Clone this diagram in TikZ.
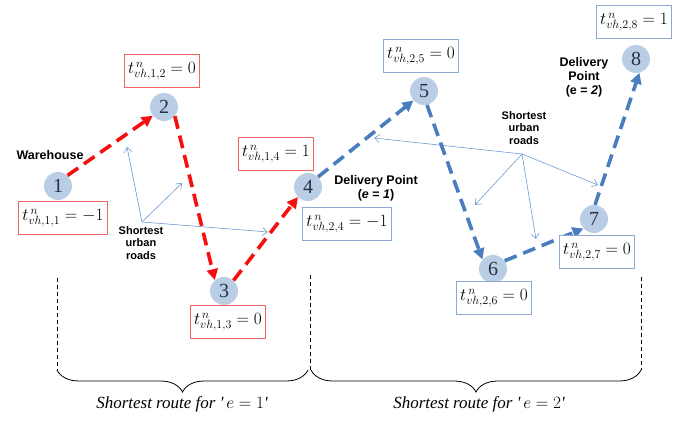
\documentclass[tikz,border=0pt]{standalone}
\usepackage{fontspec}
\setmainfont{Liberation Serif}
\newfontfamily\sansb{Liberation Sans}
\usetikzlibrary{arrows.meta,decorations.pathreplacing}
\definecolor{circfill}{RGB}{185,205,229}
\definecolor{numtext}{RGB}{40,50,70}
\definecolor{routeblue}{RGB}{74,125,190}
\definecolor{thinblue}{RGB}{110,155,210}
\definecolor{routered}{RGB}{245,15,15}
\definecolor{boxred}{RGB}{240,100,100}
\definecolor{boxblue}{RGB}{140,170,210}
\begin{document}
\begin{tikzpicture}[x=1pt,y=-1pt,
  pt/.style={circle, fill=circfill, minimum size=28pt, inner sep=0pt, text=numtext, font=\fontsize{20}{20}\selectfont},
  lblr/.style={draw=boxred, line width=0.8pt, fill=white, inner xsep=4pt, inner ysep=2pt, minimum height=33pt, font=\fontsize{18}{18}\selectfont},
  lblb/.style={draw=boxblue, line width=0.8pt, fill=white, inner xsep=4pt, inner ysep=2pt, minimum height=33pt, font=\fontsize{18}{18}\selectfont},
  redroute/.style={draw=routered, line width=3.6pt, dash pattern=on 13pt off 7pt, -{Triangle[length=11pt,width=11pt]}},
  blueroute/.style={draw=routeblue, line width=3.6pt, dash pattern=on 13pt off 7pt, -{Triangle[length=11pt,width=11pt]}},
  road/.style={draw=thinblue, line width=0.6pt, -{Straight Barb[length=5pt,width=8pt]}},
  roadtxt/.style={font=\sansb\bfseries\fontsize{11}{12.5}\selectfont, align=center},
  bigtxt/.style={font=\sansb\bfseries\fontsize{12.5}{14}\selectfont, align=center},
  sep/.style={draw=black, line width=0.7pt, dash pattern=on 4pt off 3pt},
  brc/.style={draw=black, line width=0.8pt, decorate, decoration={brace, mirror, amplitude=22pt}},
  routetxt/.style={font=\itshape\fontsize{17}{17}\selectfont}
]
\useasboundingbox (0,0) rectangle (699,422);

% nodes
\node[pt] (n1) at (58,186) {1};
\node[pt] (n2) at (164,107) {2};
\node[pt] (n3) at (224,291) {3};
\node[pt] (n4) at (308,187) {4};
\node[pt] (n5) at (424,91) {5};
\node[pt] (n6) at (493,269) {6};
\node[pt] (n7) at (594,219) {7};
\node[pt] (n8) at (636,59) {8};

% thin road arrows
\coordinate (h1) at (142,222);
\coordinate (h1a) at (127,147);
\coordinate (h1b) at (182,183);
\coordinate (h1c) at (268,232);
\draw[road] (h1) -- (h1a);
\draw[road] (h1) -- (h1b);
\draw[road] (h1) -- (h1c);
\coordinate (h2) at (522,154);
\coordinate (h2a) at (374,138);
\coordinate (h2b) at (475,205);
\coordinate (h2c) at (598,185);
\coordinate (h2d) at (536,239);
\draw[road] (h2) -- (h2a);
\draw[road] (h2) -- (h2b);
\draw[road] (h2) -- (h2c);
\draw[road] (h2) -- (h2d);

% routes
\draw[redroute] (n1.48) -- (n2.218);
\draw[redroute] (n2.-40) -- (n3.130);
\draw[redroute] (n3.48) -- (n4.225);
\draw[blueroute] (n4.45) -- (n5.222);
\draw[blueroute] (n5.-78) -- (n6.138);
\draw[blueroute] (n6.35) -- (n7.222);
\draw[blueroute] (n7.86) -- (n8.-76);

% labels
\node[lblr] (l2) at (162,71) {$t^{\,n}_{vh,1,2} = 0$};
\node[lblr] (l1) at (63,218) {$t^{\,n}_{vh,1,1} = -1$};
\node[lblr] (l4) at (276,154) {$t^{\,n}_{vh,1,4} =1$};
\node[lblr] (l3) at (228,322) {$t^{\,n}_{vh,1,3} = 0$};
\node[lblb] (l4b) at (347,224) {$t^{\,n}_{vh,2,4} = -1$};
\node[lblb] (l5) at (421,56) {$t^{\,n}_{vh,2,5} = 0$};
\node[lblb] (l8) at (634,22) {$t^{\,n}_{vh,2,8}=1$};
\node[lblb] (l7) at (597,252) {$t^{\,n}_{vh,2,7} = 0$};
\node[lblb] (l6) at (494,298) {$t^{\,n}_{vh,2,6} = 0$};

% texts
\node[bigtxt] (wh) at (50,155) {Warehouse};
\node[roadtxt] (r1) at (141,243) {Shortest\\urban\\roads};
\node[roadtxt] (r2) at (524,128) {Shortest\\urban\\roads};
\node[bigtxt] (dp1) at (376,188) {Delivery Point\\(\textit{e} = \textit{1})};
\node[bigtxt] (dp2) at (584,77) {Delivery\\Point\\(e = \textit{2})};

% separators and braces
\coordinate (s1t) at (57,278); \coordinate (s1b) at (57,370);
\coordinate (s2t) at (310,275); \coordinate (s2b) at (310,370);
\coordinate (s3t) at (641,277); \coordinate (s3b) at (641,370);
\draw[sep] (s1t) -- (s1b);
\draw[sep] (s2t) -- (s2b);
\draw[sep] (s3t) -- (s3b);
\draw[brc] (s1b) -- ([xshift=-2pt]s2b);
\draw[brc] ([xshift=1pt]s2b) -- (s3b);
\node[routetxt] (t1) at (182,404) {Shortest route for \textquotesingle\,$e=1$\textquotesingle};
\node[routetxt] (t2) at (479,404) {Shortest route for \textquotesingle\,$e=2$\textquotesingle};
\end{tikzpicture}
\end{document}
